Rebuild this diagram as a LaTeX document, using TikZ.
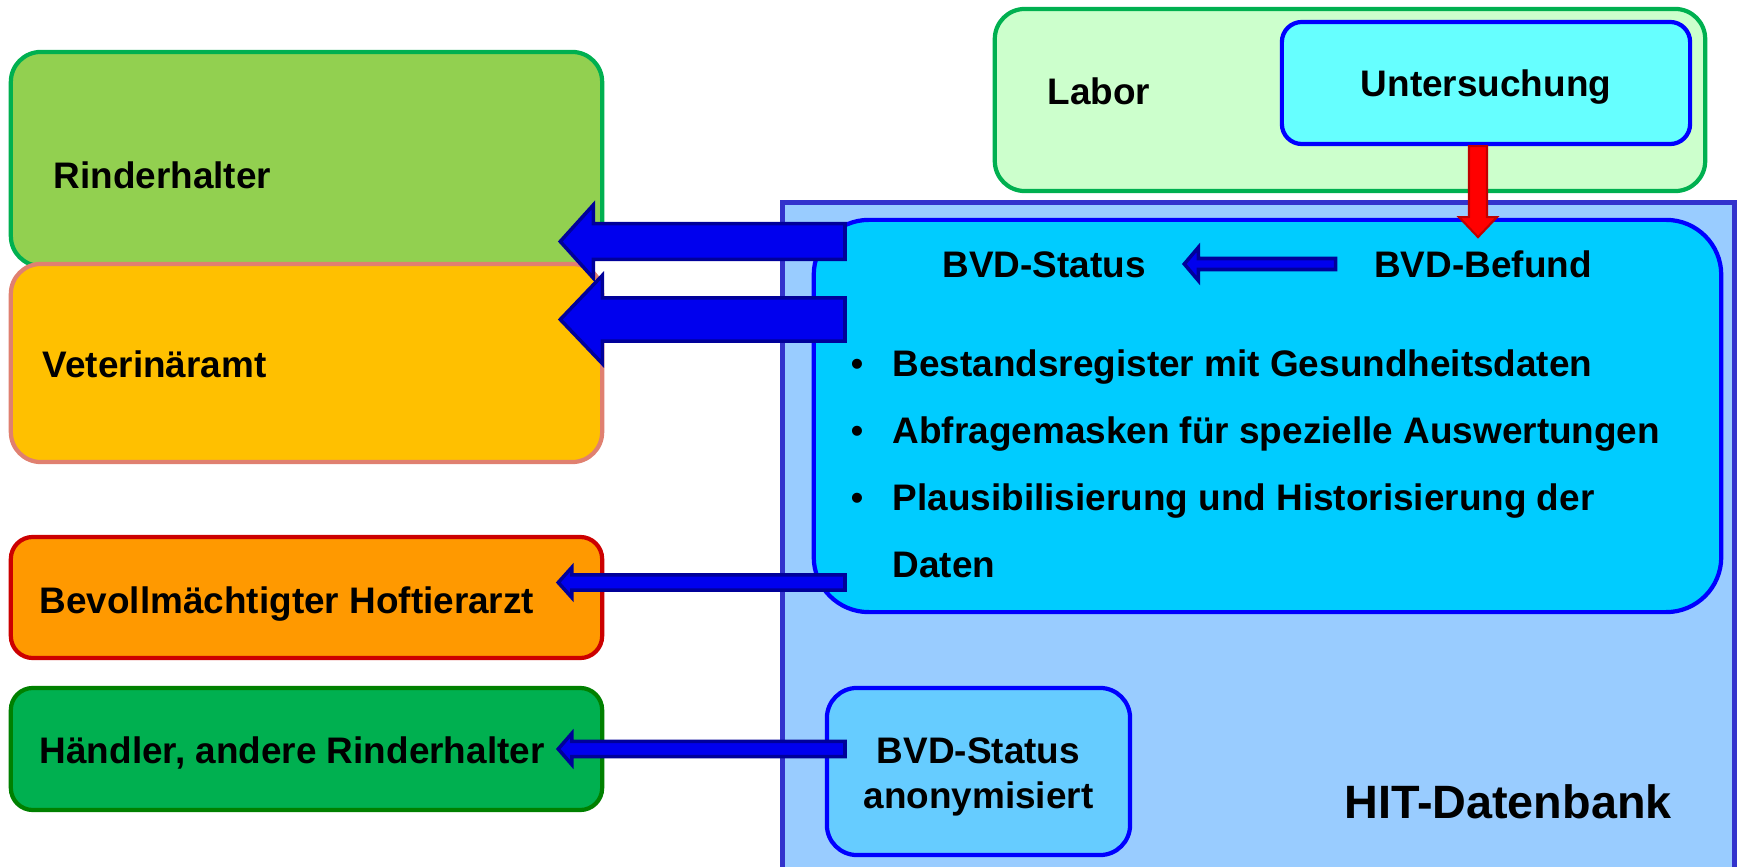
\documentclass[tikz,border=0pt]{standalone}
\usepackage{fontspec}
\setmainfont{Liberation Sans}
\usepackage{tikz}
\usetikzlibrary{calc}

\definecolor{rindfill}{HTML}{92D050}
\definecolor{rindline}{HTML}{00B050}
\definecolor{vetfill}{HTML}{FFC000}
\definecolor{vetline}{HTML}{E08070}
\definecolor{hoffill}{HTML}{FF9900}
\definecolor{hofline}{HTML}{CC0000}
\definecolor{handfill}{HTML}{00B050}
\definecolor{handline}{HTML}{008000}
\definecolor{laborfill}{HTML}{CCFFCC}
\definecolor{untfill}{HTML}{66FFFF}
\definecolor{hitfill}{HTML}{99CCFF}
\definecolor{hitline}{HTML}{3333CC}
\definecolor{infofill}{HTML}{00CCFF}
\definecolor{anonfill}{HTML}{66CCFF}
\definecolor{arrowfill}{HTML}{0000EE}
\definecolor{arrowline}{HTML}{000099}
\definecolor{redfill}{HTML}{FF0000}
\definecolor{redline}{HTML}{C00000}

% block arrow pointing left: start, target, tip inset, shaft half, head half, head length
\newcommand{\bluearrow}[6]{%
  \filldraw[blockarrow] let \p1=(#1), \p2=(#2) in
    (\x1,{\y1+#4}) -- ({\x2-#3+#6},{\y1+#4}) -- ({\x2-#3+#6},{\y1+#5})
    -- ({\x2-#3},\y1) -- ({\x2-#3+#6},{\y1-#5}) -- ({\x2-#3+#6},{\y1-#4})
    -- (\x1,{\y1-#4}) -- cycle;}

\begin{document}
\begin{tikzpicture}[x=0.01cm, y=-0.01cm,
  box/.style={draw, line width=1.2pt, rounded corners=3mm, inner sep=0pt},
  txt/.style={inner sep=0pt, text height=7.5pt, text depth=0pt,
    font=\fontsize{10.5}{13}\selectfont\bfseries},
  blockarrow/.style={draw=arrowline, fill=arrowfill, line width=1pt, line join=miter}]

  \useasboundingbox (0,0) rectangle (1741,867);

  % HIT-Datenbank
  \node[draw=hitline, fill=hitfill, line width=1.4pt, inner sep=0pt,
        minimum width=9.51cm, minimum height=6.77cm] (hit) at (1258.5,541.5) {};
  \node[txt, text height=9.5pt, font=\fontsize{13.3}{15}\selectfont\bfseries] (hittxt) at (1508,802) {HIT-Datenbank};

  \node[box, draw=blue, fill=infofill, rounded corners=5.5mm,
        minimum width=9.07cm, minimum height=3.92cm] (info) at (1267.5,416) {};
  \node[box, draw=blue, fill=anonfill,
        minimum width=3.03cm, minimum height=1.67cm] (anon) at (978.5,771.5) {};
  \node[align=center, inner sep=0pt, font=\fontsize{10.5}{13}\selectfont\bfseries]
        (anontxt) at (978.5,777) {BVD-Status\\anonymisiert};

  % Labor
  \node[box, draw=rindline, fill=laborfill,
        minimum width=7.1cm, minimum height=1.82cm] (labor) at (1350,100) {};
  \node[txt, anchor=west] (labortxt) at (1047,91) {Labor};
  \node[box, txt, draw=blue, fill=untfill, rounded corners=2mm,
        minimum width=4.08cm, minimum height=1.22cm] (unt) at (1486,83) {Untersuchung};

  % left boxes
  \node[box, draw=rindline, fill=rindfill,
        minimum width=5.91cm, minimum height=2.14cm] (rind) at (306.5,159) {};
  \node[box, draw=vetline, fill=vetfill,
        minimum width=5.91cm, minimum height=1.98cm] (vet) at (306.5,363) {};
  \node[box, draw=hofline, fill=hoffill, rounded corners=2.2mm,
        minimum width=5.91cm, minimum height=1.21cm] (hof) at (306.5,597.5) {};
  \node[box, draw=handline, fill=handfill, rounded corners=2.2mm,
        minimum width=5.91cm, minimum height=1.22cm] (hand) at (306.5,749) {};

  \node[txt, anchor=west] (rindtxt) at (53,175) {Rinderhalter};
  \node[txt, anchor=west] (vettxt) at (42,364) {Veterinäramt};
  \node[txt, anchor=west] (hoftxt) at (39,600) {Bevollmächtigter Hoftierarzt};
  \node[txt, anchor=west] (handtxt) at (39,750) {Händler, andere Rinderhalter};

  % info contents
  \node[txt] (status) at (1044,264) {BVD-Status};
  \node[txt] (befund) at (1483,264) {BVD-Befund};
  \node[txt, font=\fontsize{10.5}{13}\selectfont] (dot1) at (857,363) {\textbullet};
  \node[txt, font=\fontsize{10.5}{13}\selectfont] (dot2) at (857,430) {\textbullet};
  \node[txt, font=\fontsize{10.5}{13}\selectfont] (dot3) at (857,497) {\textbullet};
  \node[txt, anchor=west] (item1) at (892,363) {Bestandsregister mit Gesundheitsdaten};
  \node[txt, anchor=west] (item2) at (892,430) {Abfragemasken für spezielle Auswertungen};
  \node[txt, anchor=west] (item3) at (892,497) {Plausibilisierung und Historisierung der};
  \node[txt, anchor=west] (item3b) at (892,564) {Daten};

  % arrow ends
  \coordinate (a1) at (845,241.5);
  \coordinate (a2) at (845,319.5);
  \coordinate (a3) at (845,582.5);
  \coordinate (a4) at (845,749);

  % arrows to the left boxes
  \bluearrow{a1}{rind.east}{4.4mm}{1.78mm}{3.65mm}{3.3mm}
  \bluearrow{a2}{vet.east}{4.4mm}{2.15mm}{4.4mm}{4.2mm}
  \bluearrow{a3}{hof.east}{4.6mm}{0.77mm}{1.5mm}{1.35mm}
  \bluearrow{a4}{hand.east}{4.6mm}{0.77mm}{1.55mm}{1.35mm}

  % Befund -> Status
  \bluearrow{[xshift=-3.8mm]befund.west}{status.east}{-3.8mm}{0.55mm}{1.65mm}{1.4mm}

  % Untersuchung -> Befund
  \filldraw[draw=redline, fill=redfill, line width=0.6pt, line join=miter]
    let \p1=([xshift=-0.8mm]unt.south), \p2=(befund.north) in
    ({\x1-0.9mm},\y1) -- ({\x1-0.9mm},{\y2+3.3mm}) -- ({\x1-1.9mm},{\y2+3.3mm})
    -- (\x1,{\y2+1.3mm}) -- ({\x1+1.9mm},{\y2+3.3mm}) -- ({\x1+0.9mm},{\y2+3.3mm})
    -- ({\x1+0.9mm},\y1) -- cycle;

\end{tikzpicture}
\end{document}
